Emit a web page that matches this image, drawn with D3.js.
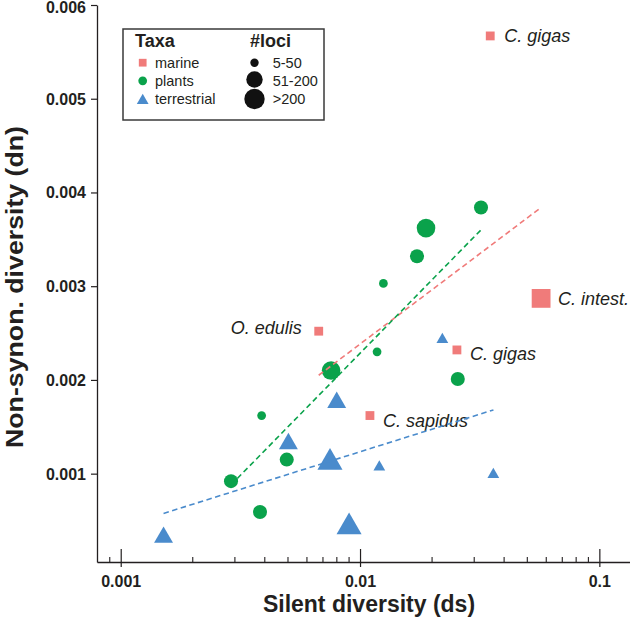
<!DOCTYPE html>
<html>
<head>
<meta charset="utf-8">
<script src="https://cdn.jsdelivr.net/npm/d3@7"></script>
<style>
  html, body { margin: 0; padding: 0; background: #fff; }
  svg { display: block; }
  text { font-family: "Liberation Sans", Arial, Helvetica, sans-serif; fill: #231f20; }
</style>
</head>
<body>
<svg id="chart" width="630" height="625"></svg>
<script>
// ---------------- data ----------------
const taxa = ["marine", "plants", "terrestrial"];
const lociClasses = ["5-50", "51-200", ">200"];

const marineNames = ["C. gigas", "C. intest.", "O. edulis", "C. gigas", "C. sapidus"];
const marineDs = [0.0350, 0.0571, 0.00672, 0.0254, 0.0110];
const marineDn = [0.00567, 0.00287, 0.00252, 0.00232, 0.00162];
const marineLoci = ["5-50", ">200", "5-50", "5-50", "5-50"];

const plantsDs = [0.00289, 0.00382, 0.00388, 0.00494, 0.00757, 0.01178, 0.01252, 0.01730, 0.01887, 0.03202, 0.02561];
const plantsDn = [0.00092, 0.00059, 0.00162, 0.00115, 0.00210, 0.00230, 0.00303, 0.00332, 0.00362, 0.00384, 0.00201];
const plantsLoci = ["51-200", "51-200", "5-50", "51-200", ">200", "5-50", "5-50", "51-200", ">200", "51-200", "51-200"];

const terrDs = [0.00151, 0.00502, 0.00749, 0.00799, 0.00900, 0.01204, 0.02208, 0.03606];
const terrDn = [0.00032, 0.00132, 0.00112, 0.00176, 0.00043, 0.00107, 0.00243, 0.00099];
const terrLoci = ["51-200", "51-200", ">200", "51-200", ">200", "5-50", "5-50", "5-50"];

// fitted trend lines (endpoints)
const fitTaxa = ["marine", "plants", "terrestrial"];
const fitDsStart = [0.00672, 0.00289, 0.00151];
const fitDsEnd = [0.0571, 0.0320, 0.0361];
const fitDnStart = [0.00205, 0.00088, 0.000576];
const fitDnEnd = [0.00384, 0.00360, 0.00168];

const xTickValues = [0.001, 0.01, 0.1];
const xTickLabels = ["0.001", "0.01", "0.1"];
const xMinorTicks = [0.0009, 0.002, 0.003, 0.004, 0.005, 0.006, 0.007, 0.008, 0.009,
                     0.02, 0.03, 0.04, 0.05, 0.06, 0.07, 0.08, 0.09];
const yTickValues = [0.001, 0.002, 0.003, 0.004, 0.005, 0.006];
const yTickLabels = ["0.001", "0.002", "0.003", "0.004", "0.005", "0.006"];

// ---------------- layout / style ----------------
const colors = { marine: "#f07b7a", plants: "#0aa24b", terrestrial: "#4a8bcc" };
const symbolTypes = { marine: d3.symbolSquare, plants: d3.symbolCircle, terrestrial: d3.symbolTriangle };
const shapeFactor = { marine: 1.3, plants: 1, terrestrial: 1 };
const sizeScale = d3.scaleOrdinal().domain(lociClasses).range([60, 155, 272]);
// label offsets (px) relative to the marine points
const labelDx = [14, 17, -17, 13, 13];
const labelDy = [6.5, 7, 3, 10, 11];
const labelAnchor = ["start", "start", "end", "start", "start"];

const svg = d3.select("#chart");
svg.append("rect").attr("width", 630).attr("height", 625).attr("fill", "#fff");

const x = d3.scaleLog().domain([0.000796, 0.1343]).range([97, 630]);
const y = d3.scaleLinear().domain([0.0000575, 0.006]).range([562, 5]);

// build point records
function build(taxon, ds, dn, loci) {
  return ds.map((d, i) => ({ taxon, ds: d, dn: dn[i], loci: loci[i], idx: i }));
}
const points = [].concat(
  build("plants", plantsDs, plantsDn, plantsLoci),
  build("terrestrial", terrDs, terrDn, terrLoci),
  build("marine", marineDs, marineDn, marineLoci)
);

// ---------------- axes ----------------
const axisColor = "#231f20";
const yAxis = d3.axisLeft(y).tickValues(yTickValues)
  .tickFormat((d, i) => yTickLabels[i]).tickSizeInner(6).tickSizeOuter(0).tickPadding(5);
const gy = svg.append("g").attr("transform", "translate(97,0)").call(yAxis);
gy.select(".domain").attr("stroke", axisColor).attr("stroke-width", 1.3);
gy.selectAll(".tick line").attr("stroke", axisColor).attr("stroke-width", 1.2);
gy.selectAll(".tick text").attr("font-size", 16).attr("font-weight", "bold")
  .attr("fill", axisColor).attr("font-family", "Liberation Sans, Arial, sans-serif")
  .attr("dy", d => d === 0.006 ? "0.45em" : "0.34em");

const xAxis = d3.axisBottom(x).tickValues(xTickValues)
  .tickFormat((d, i) => xTickLabels[i]).tickSizeInner(6).tickSizeOuter(0);
const gx = svg.append("g").attr("transform", "translate(0,562)").call(xAxis);
gx.select(".domain").attr("stroke", axisColor).attr("stroke-width", 1.3);
gx.selectAll(".tick line").attr("y1", -13).attr("y2", 5).attr("stroke", axisColor).attr("stroke-width", 1.2);
gx.selectAll(".tick text").attr("y", 25).attr("dy", 0).attr("font-size", 16).attr("font-weight", "bold")
  .attr("fill", axisColor).attr("font-family", "Liberation Sans, Arial, sans-serif");
gx.selectAll(".minor").data(xMinorTicks).enter().append("line")
  .attr("class", "minor")
  .attr("x1", d => x(d)).attr("x2", d => x(d))
  .attr("y1", 0).attr("y2", -5)
  .attr("stroke", axisColor).attr("stroke-width", 1.1);

// axis titles
svg.append("text").attr("x", 369).attr("y", 612).attr("text-anchor", "middle")
  .attr("font-size", 23).attr("font-weight", "bold").text("Silent diversity (ds)");
svg.append("text").attr("transform", "translate(23,287) rotate(-90)").attr("text-anchor", "middle")
  .attr("font-size", 23).attr("font-weight", "bold")
  .attr("textLength", 322).attr("lengthAdjust", "spacingAndGlyphs")
  .text("Non-synon. diversity (dn)");

// ---------------- points ----------------
const sym = d3.symbol();
svg.append("g").selectAll("path").data(points).enter().append("path")
  .attr("transform", d => `translate(${x(d.ds)},${y(d.dn)})`)
  .attr("d", d => sym.type(symbolTypes[d.taxon]).size(sizeScale(d.loci) * shapeFactor[d.taxon])())
  .attr("fill", d => colors[d.taxon]);

// labels for marine taxa
svg.append("g").selectAll("text").data(marineNames).enter().append("text")
  .attr("x", (d, i) => x(marineDs[i]) + labelDx[i])
  .attr("y", (d, i) => y(marineDn[i]) + labelDy[i])
  .attr("text-anchor", (d, i) => labelAnchor[i])
  .attr("font-size", 18).attr("font-style", "italic")
  .text(d => d);

// ---------------- trend lines ----------------
svg.append("g").selectAll("line").data(fitTaxa).enter().append("line")
  .attr("x1", (d, i) => x(fitDsStart[i])).attr("y1", (d, i) => y(fitDnStart[i]))
  .attr("x2", (d, i) => x(fitDsEnd[i])).attr("y2", (d, i) => y(fitDnEnd[i]))
  .attr("stroke", d => colors[d]).attr("stroke-width", 1.6)
  .attr("stroke-dasharray", "5.5,3.5");

// ---------------- legend ----------------
const lg = svg.append("g");
lg.append("rect").attr("x", 123).attr("y", 29).attr("width", 201).attr("height", 91)
  .attr("fill", "#fff").attr("stroke", "#3a3a3a").attr("stroke-width", 1.5);
lg.append("text").attr("x", 135).attr("y", 47).attr("font-size", 18).attr("font-weight", "bold").text("Taxa");
lg.append("text").attr("x", 250).attr("y", 47).attr("font-size", 18).attr("font-weight", "bold").text("#loci");

const taxaRowY = [62.7, 80.8, 100.5];
const taxaTextY = [68.3, 85.5, 103.5];
taxa.forEach((t, i) => {
  lg.append("path").attr("transform", `translate(142.7,${taxaRowY[i]})`)
    .attr("d", sym.type(symbolTypes[t]).size(60)())
    .attr("fill", colors[t]);
  lg.append("text").attr("x", 155).attr("y", taxaTextY[i]).attr("font-size", 14.5).text(t);
});
const lociRowY = [62.7, 79.5, 99];
const lociLegendR = [4.2, 8.2, 10.2];
lociClasses.forEach((c, i) => {
  lg.append("circle").attr("cx", 254.5).attr("cy", lociRowY[i]).attr("r", lociLegendR[i]).attr("fill", "#111");
  lg.append("text").attr("x", 272.7).attr("y", taxaTextY[i]).attr("font-size", 14.5).text(c);
});
</script>
</body>
</html>
